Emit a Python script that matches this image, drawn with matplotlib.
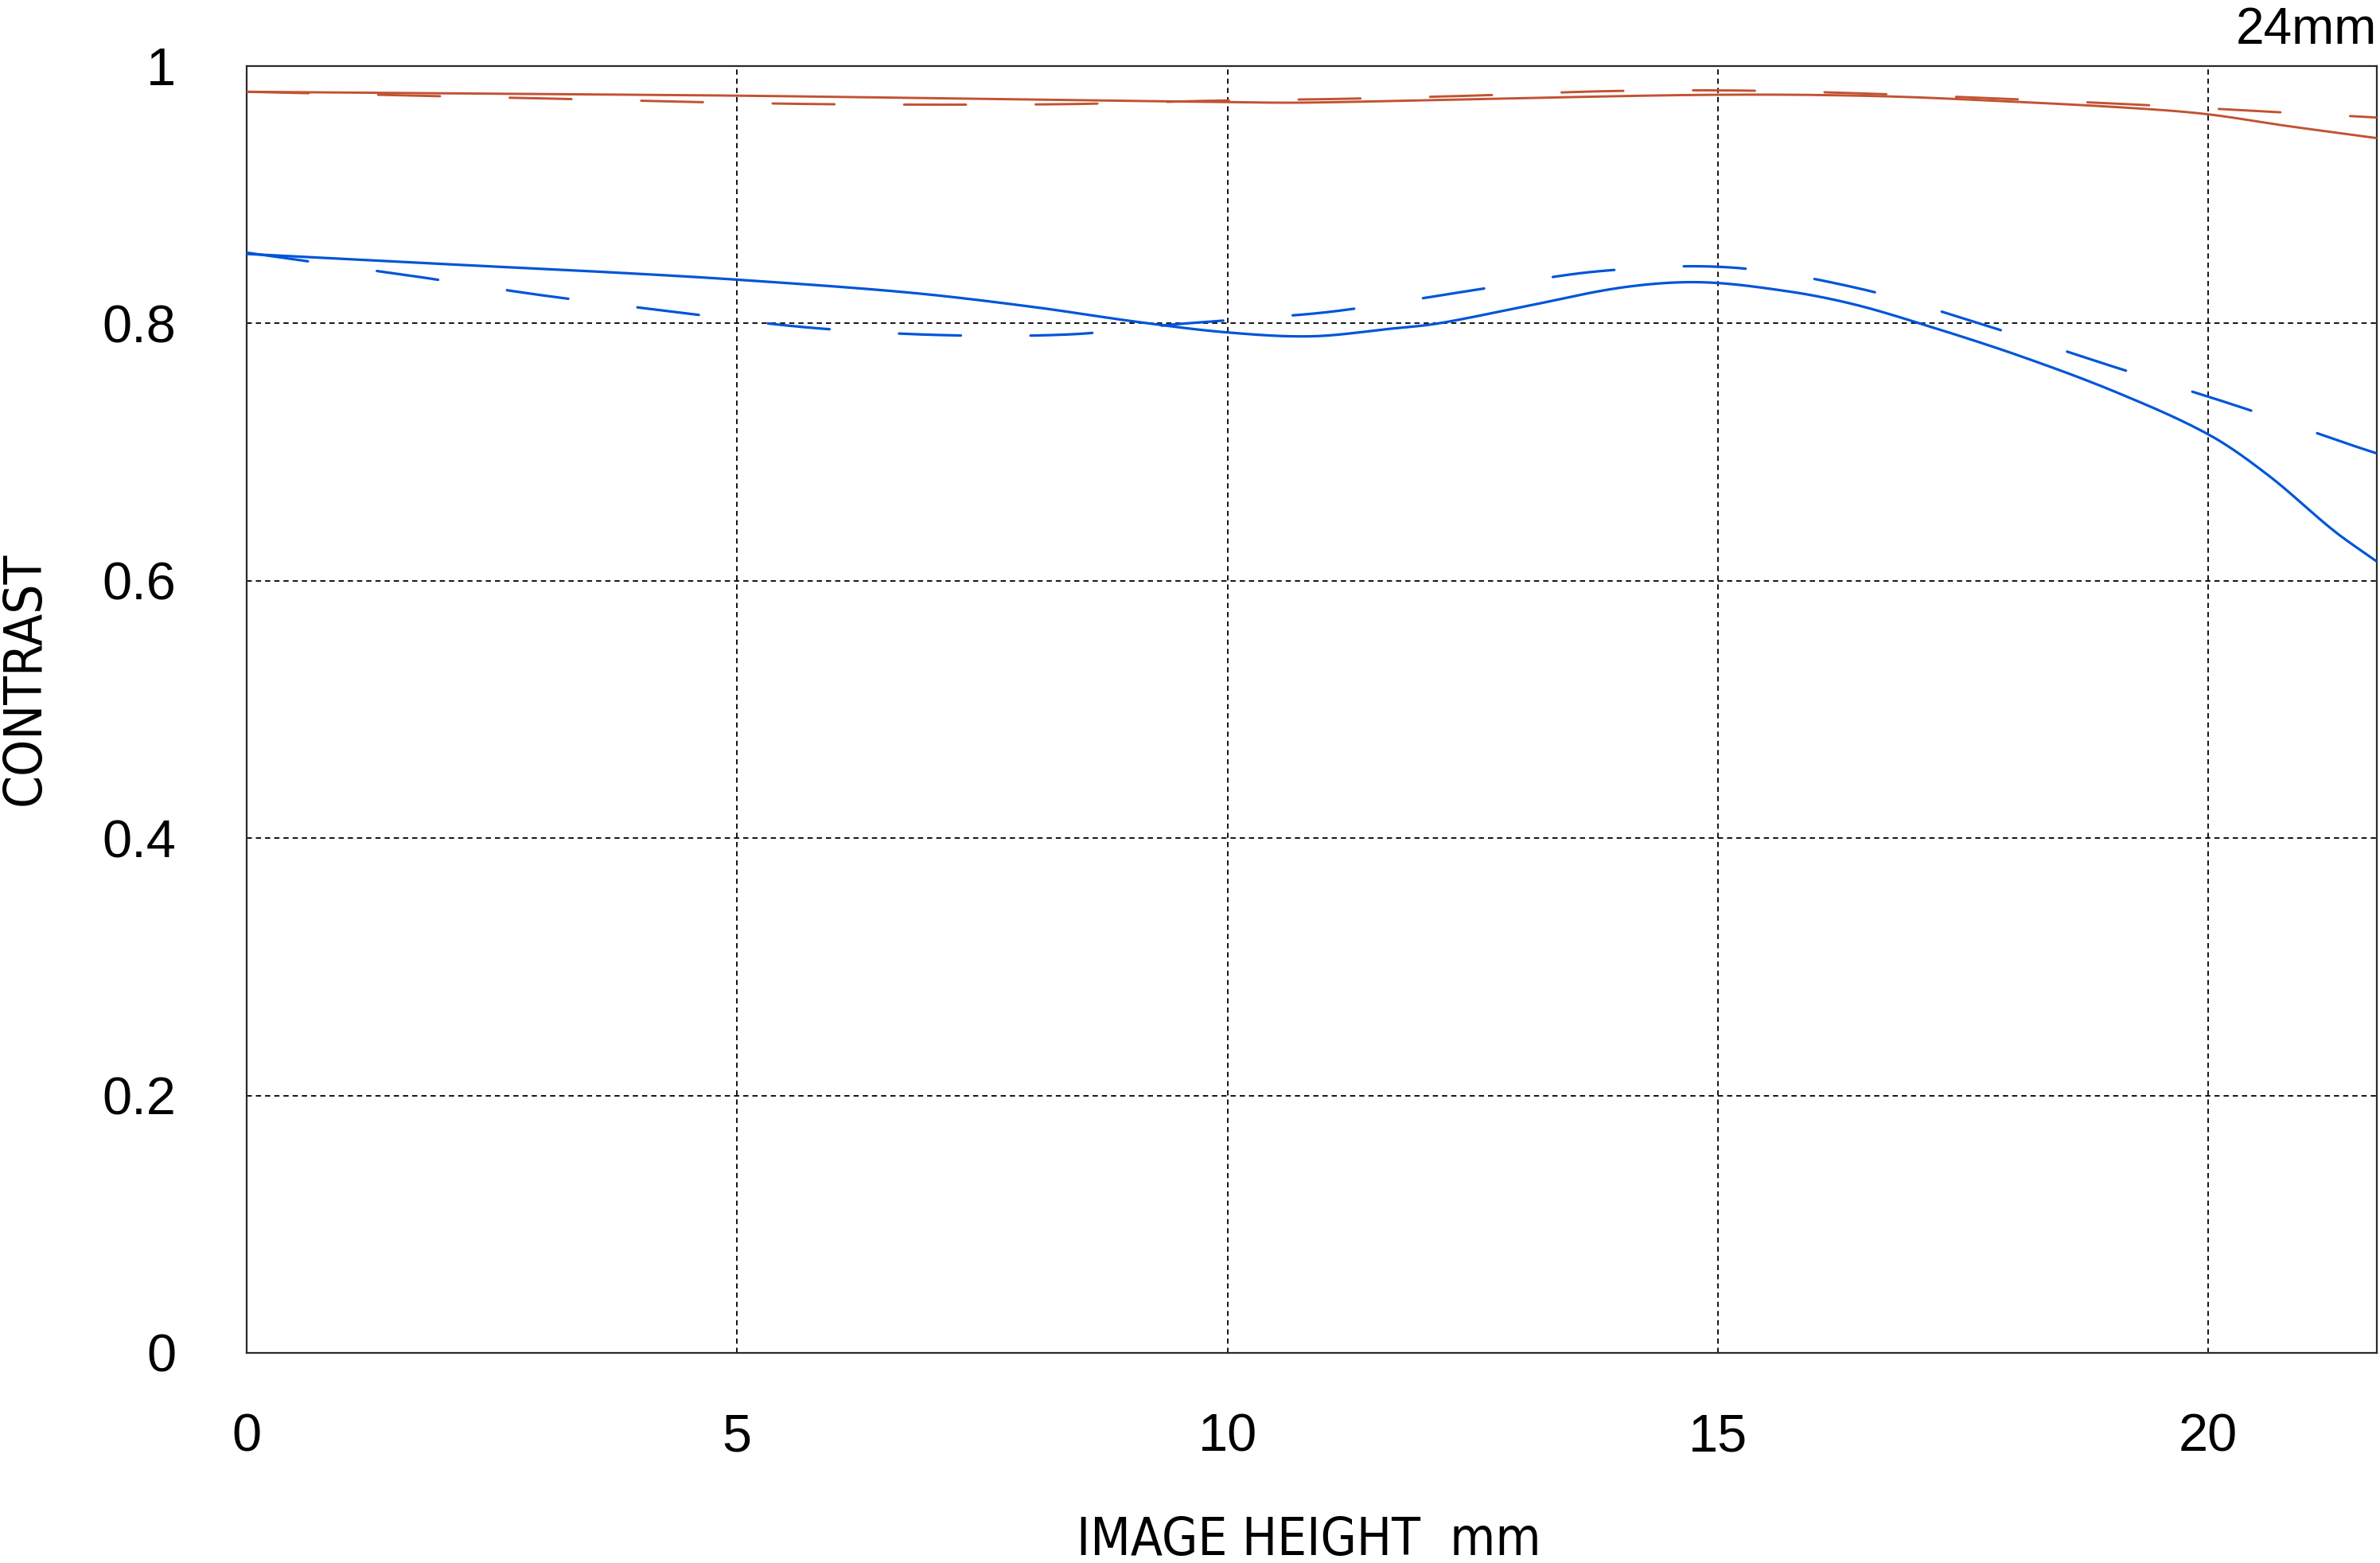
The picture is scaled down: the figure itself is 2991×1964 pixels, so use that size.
import matplotlib
matplotlib.use("Agg")
import matplotlib.pyplot as plt
from matplotlib import font_manager
from matplotlib.font_manager import FontProperties
import numpy as np

# ---- data ----
x_red_solid = [0, 2.5, 5, 7.5, 10, 10.8, 12.7, 15, 16.6, 18.1, 19.3, 20, 20.8, 21.72]
y_red_solid = [0.980, 0.9785, 0.977, 0.9745, 0.972, 0.9716, 0.9746, 0.9777, 0.9767, 0.972, 0.967, 0.9625, 0.9535, 0.944]

x_red_dash = [0, 1.7, 3.05, 4.4, 5.75, 7.1, 8.45, 9.8, 11.16, 12.5, 13.87, 15.2, 16.57, 17.94, 19.28, 20.63, 21.72]
y_red_dash = [0.980, 0.977, 0.9748, 0.9723, 0.9705, 0.970, 0.9705, 0.973, 0.9745, 0.977, 0.9805, 0.981, 0.9785, 0.9745, 0.970, 0.9645, 0.960]

x_blue_solid = [0, 1.78, 3.64, 5, 6.75, 8, 9.1, 10, 10.86, 11.68, 12.15, 13.02, 14.03, 14.83, 15.71, 16.38, 17.06, 18.07, 19.08, 20.02, 20.63, 21.28, 21.72]
y_blue_solid = [0.854, 0.847, 0.840, 0.834, 0.824, 0.813, 0.801, 0.793, 0.790, 0.796, 0.800, 0.813, 0.828, 0.832, 0.825, 0.815, 0.800, 0.775, 0.746, 0.713, 0.681, 0.639, 0.615]

x_blue_dash = [0, 1.68, 3.0, 4.36, 5.7, 7.06, 8.4, 9.42, 10.1, 11.1, 12.44, 13.78, 15.13, 16.45, 17.75, 19.05, 20.33, 21.48, 21.72]
y_blue_dash = [0.855, 0.837, 0.822, 0.809, 0.797, 0.791, 0.7915, 0.799, 0.803, 0.8095, 0.825, 0.8405, 0.8435, 0.827, 0.798, 0.766, 0.735, 0.705, 0.699]

x_ticks = [0, 5, 10, 15, 20]
x_ticklabels = ["0", "5", "10", "15", "20"]
y_ticks = [0, 0.2, 0.4, 0.6, 0.8, 1]
y_ticklabels = ["0", "0.2", "0.4", "0.6", "0.8", "1"]
x_label = "IMAGE HEIGHT  mm"
y_label = "CONTRAST"
corner_label = "24mm"

RED = "#c25232"
BLUE = "#0055d8"

avail = {f.name for f in font_manager.fontManager.ttflist}
main_font = "Liberation Sans" if "Liberation Sans" in avail else "DejaVu Sans"
plt.rcParams["font.family"] = [main_font, "DejaVu Sans"]

# look for a condensed sans face for the axis titles
narrow_fp = None
for f in font_manager.fontManager.ttflist:
    fn = f.fname.lower()
    if ("narrow" in fn or "condensed" in fn) and "bold" not in fn and "italic" not in fn \
            and "oblique" not in fn and f.weight in (400, "normal", "regular"):
        if "liberation" in fn:
            narrow_fp = FontProperties(fname=f.fname)
            break
        if narrow_fp is None:
            narrow_fp = FontProperties(fname=f.fname)


def smooth(xs, ys, n=800):
    """Catmull-Rom style Hermite spline through the read points."""
    xs = np.asarray(xs, float); ys = np.asarray(ys, float)
    xx = np.linspace(xs[0], xs[-1], n)
    d = np.diff(ys) / np.diff(xs)
    m = np.zeros_like(ys)
    m[1:-1] = (ys[2:] - ys[:-2]) / (xs[2:] - xs[:-2])
    m[0] = d[0]; m[-1] = d[-1]
    yy = np.empty_like(xx)
    for i, xv in enumerate(xx):
        k = min(np.searchsorted(xs, xv, side="right") - 1, len(xs) - 2)
        h = xs[k + 1] - xs[k]
        t = (xv - xs[k]) / h
        h00 = 2*t**3 - 3*t**2 + 1; h10 = t**3 - 2*t**2 + t
        h01 = -2*t**3 + 3*t**2; h11 = t**3 - t**2
        yy[i] = h00*ys[k] + h10*h*m[k] + h01*ys[k+1] + h11*h*m[k+1]
    return xx, yy


fig = plt.figure(figsize=(29.91, 19.64), dpi=100)
ax = fig.add_axes([310/2991, 1 - 1700/1964, (2987-310)/2991, (1700-83)/1964])

lw = 2.1
dash_pt = 56.0
gap_pt = 63.0

xx, yy = smooth(x_red_solid, y_red_solid)
ax.plot(xx, yy, color=RED, lw=lw, solid_capstyle="round", zorder=3)
xx, yy = smooth(x_red_dash, y_red_dash)
ax.plot(xx, yy, color=RED, lw=lw, dash_capstyle="round",
        linestyle=(0, (dash_pt/lw, gap_pt/lw)), zorder=3)
lwb = lw + 0.2
xx, yy = smooth(x_blue_solid, y_blue_solid)
ax.plot(xx, yy, color=BLUE, lw=lwb, solid_capstyle="round", zorder=3)
xx, yy = smooth(x_blue_dash, y_blue_dash)
ax.plot(xx, yy, color=BLUE, lw=lwb, dash_capstyle="round",
        linestyle=(0, (dash_pt/lwb, gap_pt/lwb)), zorder=3)

ax.set_xlim(0, 21.72)
ax.set_ylim(0, 1)
ax.set_xticks(x_ticks)
ax.set_xticklabels(x_ticklabels)
ax.set_yticks(y_ticks)
ax.set_yticklabels(y_ticklabels)
ax.tick_params(axis="both", length=0, labelsize=48)
ax.tick_params(axis="x", pad=54)
ax.tick_params(axis="y", pad=64)

grid_lw = 1.3
grid_style = (0, (3.6, 2.8))
for xv in x_ticks[1:]:
    ax.axvline(xv, color="black", lw=grid_lw, linestyle=grid_style, zorder=1)
for yv in y_ticks[1:-1]:
    ax.axhline(yv, color="black", lw=grid_lw, linestyle=grid_style, zorder=1)

for s in ax.spines.values():
    s.set_color("#2a2a2a")
    s.set_linewidth(1.6)

if narrow_fp is not None:
    fig.text(1353/2991, 1 - 1954/1964, x_label, fontproperties=narrow_fp, fontsize=47,
             ha="left", va="baseline")
    fig.text(0.0, 1 - 853/1964, y_label, fontproperties=narrow_fp, fontsize=47,
             rotation=90, ha="left", va="center")
else:
    fig.text(1353/2991, 1 - 1950/1964, x_label, fontsize=44, ha="left", va="baseline")
    fig.text(0.0, 1 - 853/1964, y_label, fontsize=43, rotation=90, ha="left", va="center")

fig.text(2987/2991, 1 - 55/1964, corner_label, fontsize=46, ha="right", va="baseline")

fig.savefig("out.png", dpi=100, facecolor="white")
